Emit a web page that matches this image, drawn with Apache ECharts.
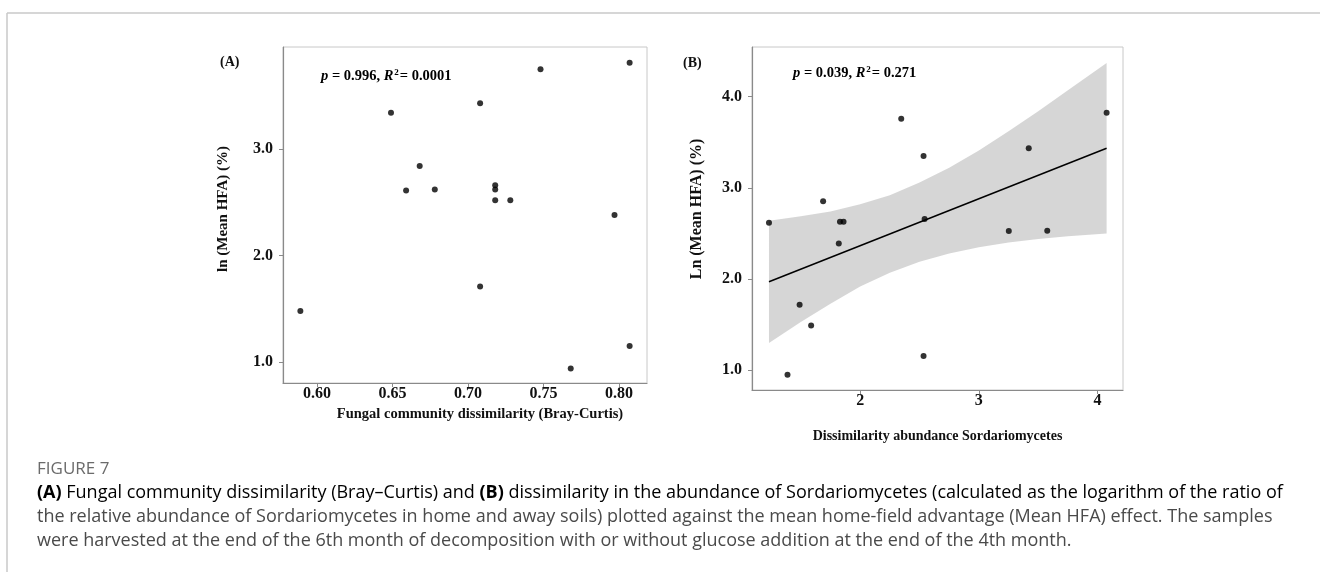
<!DOCTYPE html>
<html>
<head>
<meta charset="utf-8">
<script src="https://cdn.jsdelivr.net/npm/echarts@6/dist/echarts.min.js"></script>
<style>
html, body { margin: 0; padding: 0; background: #fff; }
#chart { width: 1320px; height: 572px; }
</style>
</head>
<body>
<div id="chart"></div>
<script>
// (A) fungal community dissimilarity vs ln(Mean HFA)
var dissimA = [0.589, 0.649, 0.659, 0.668, 0.678, 0.708, 0.708, 0.718, 0.718, 0.718, 0.728, 0.748, 0.768, 0.797, 0.807, 0.807];
var hfaA    = [1.48,  3.34,  2.61,  2.84,  2.62,  3.43,  1.71,  2.66,  2.62,  2.52,  2.52,  3.75,  0.94,  2.38,  3.81,  1.15];

// (B) dissimilarity abundance Sordariomycetes vs Ln(Mean HFA)
var sordB = [1.232, 1.388, 1.49, 1.587, 1.688, 1.82, 1.83, 1.86, 2.346, 2.534, 2.543, 2.534, 3.252, 3.42, 3.576, 4.076];
var hfaB  = [2.618, 0.95,  1.72, 1.49,  2.853, 2.39, 2.63, 2.63, 3.759, 3.35,  2.659, 1.157, 2.527, 3.434, 2.53, 3.825];

// fitted line + confidence band
var fitX = [1.232, 4.076];
var fitY = [1.971, 3.434];
var bandX    = [1.232, 1.5,  1.75, 2.0,  2.25, 2.5,  2.75, 3.0,  3.25, 3.5,  3.75, 4.076];
var bandLow  = [1.30,  1.53, 1.73, 1.92, 2.07, 2.19, 2.28, 2.35, 2.40, 2.44, 2.47, 2.50];
var bandHigh = [2.64,  2.69, 2.74, 2.82, 2.92, 3.06, 3.22, 3.41, 3.62, 3.84, 4.07, 4.37];

// tick labels
var ticksAx = [0.60, 0.65, 0.70, 0.75, 0.80];
var ticksAy = [1, 2, 3];
var ticksBx = [2, 3, 4];
var ticksBy = [1, 2, 3, 4];

var serif = 'Liberation Serif';
var axisCol = '#8a8a8a';

function makeAxis(opt) {
    var base = {
        type: 'value',
        scale: true,
        splitLine: { show: false },
        axisLine: { show: true, lineStyle: { color: axisCol, width: 1.2 } },
        axisTick: { show: true, length: 4, lineStyle: { color: axisCol } },
        axisLabel: {
            color: '#111',
            fontFamily: serif,
            fontWeight: 'bold',
            fontSize: 16,
            margin: 3
        },
        nameLocation: 'middle',
        nameTextStyle: {
            color: '#111',
            fontFamily: serif,
            fontWeight: 'bold',
            fontSize: 14
        }
    };
    var out = Object.assign({}, base, opt);
    out.axisTick = Object.assign({}, base.axisTick, { customValues: opt.ticks });
    out.axisLabel = Object.assign({}, base.axisLabel, { customValues: opt.ticks }, opt.labelExtra || {});
    out.nameTextStyle = Object.assign({}, base.nameTextStyle, opt.nameExtra || {});
    delete out.ticks;
    delete out.labelExtra;
    delete out.nameExtra;
    return out;
}

function zip(xs, ys) {
    return xs.map(function (x, i) { return [x, ys[i]]; });
}

var chart = echarts.init(document.getElementById('chart'));

var richStat = {
    b: { fontFamily: serif, fontWeight: 'bold', fontSize: 14.5, color: '#111' },
    i: { fontFamily: serif, fontWeight: 'bold', fontStyle: 'italic', fontSize: 14.5, color: '#111' },
    sup: { fontFamily: serif, fontWeight: 'bold', fontSize: 9, color: '#111', verticalAlign: 'top', padding: [0, 1, 0, 1] }
};

var option = {
    backgroundColor: '#fff',
    animation: false,
    grid: [
        { left: 283, top: 47, width: 364, height: 336, show: true, borderColor: '#c8c8c8', borderWidth: 1 },
        { left: 752, top: 47, width: 371, height: 343, show: true, borderColor: '#c8c8c8', borderWidth: 1 }
    ],
    xAxis: [
        makeAxis({
            gridIndex: 0, min: 0.5775, max: 0.8185, ticks: ticksAx,
            labelExtra: { formatter: function (v) { return v.toFixed(2); } },
            name: 'Fungal community dissimilarity (Bray-Curtis)', nameGap: 24,
            nameExtra: { fontSize: 14.5, padding: [0, 0, 0, 30] }
        }),
        makeAxis({
            gridIndex: 1, min: 1.089, max: 4.214, ticks: ticksBx,
            labelExtra: { formatter: function (v) { return String(v); } },
            name: 'Dissimilarity abundance Sordariomycetes', nameGap: 39
        })
    ],
    yAxis: [
        makeAxis({
            gridIndex: 0, min: 0.803, max: 3.958, ticks: ticksAy,
            labelExtra: { formatter: function (v) { return v.toFixed(1); }, margin: 10 }
        }),
        makeAxis({
            gridIndex: 1, min: 0.784, max: 4.545, ticks: ticksBy,
            labelExtra: { formatter: function (v) { return v.toFixed(1); }, margin: 10 }
        })
    ],
    series: [
        {
            type: 'scatter',
            xAxisIndex: 0, yAxisIndex: 0,
            symbolSize: 6,
            itemStyle: { color: '#000' },
            data: zip(dissimA, hfaA)
        },
        {
            type: 'scatter',
            xAxisIndex: 1, yAxisIndex: 1,
            symbolSize: 6,
            itemStyle: { color: '#000' },
            data: zip(sordB, hfaB)
        },
        {
            // confidence band drawn over the points, like ggplot
            type: 'custom',
            xAxisIndex: 1, yAxisIndex: 1,
            silent: true,
            data: [[bandX[0], bandLow[0]]],
            renderItem: function (params, api) {
                var pts = [];
                for (var i = 0; i < bandX.length; i++) pts.push(api.coord([bandX[i], bandHigh[i]]));
                for (var j = bandX.length - 1; j >= 0; j--) pts.push(api.coord([bandX[j], bandLow[j]]));
                return {
                    type: 'polygon',
                    shape: { points: pts },
                    style: { fill: 'rgba(153,153,153,0.4)', stroke: null }
                };
            }
        },
        {
            type: 'line',
            xAxisIndex: 1, yAxisIndex: 1,
            symbol: 'none',
            lineStyle: { color: '#000', width: 1.5 },
            data: zip(fitX, fitY)
        }
    ],
    graphic: [
        // page frame
        { type: 'line', shape: { x1: 7, y1: 13, x2: 1320, y2: 13 }, style: { stroke: '#c8c8c8', lineWidth: 1.5 } },
        { type: 'line', shape: { x1: 7, y1: 13, x2: 7, y2: 572 }, style: { stroke: '#c8c8c8', lineWidth: 1.5 } },
        // y axis titles
        { type: 'text', x: 223, y: 209, rotation: Math.PI / 2, style: {
            text: 'ln (Mean HFA) (%)', font: 'bold 15px "Liberation Serif"', fill: '#111', align: 'center', verticalAlign: 'middle' } },
        { type: 'text', x: 697, y: 209, rotation: Math.PI / 2, style: {
            text: 'Ln (Mean HFA) (%)', font: 'bold 16px "Liberation Serif"', fill: '#111', align: 'center', verticalAlign: 'middle' } },
        // panel tags
        { type: 'text', x: 220, y: 62, style: { text: '(A)', font: 'bold 14px "Liberation Serif"', fill: '#111', verticalAlign: 'middle' } },
        { type: 'text', x: 683, y: 63, style: { text: '(B)', font: 'bold 14px "Liberation Serif"', fill: '#111', verticalAlign: 'middle' } },
        // stats
        { type: 'text', x: 321, y: 76, style: {
            text: '{i|p}{b| = 0.996, }{i|R}{sup|2}{b|= 0.0001}', rich: richStat, verticalAlign: 'middle' } },
        { type: 'text', x: 793, y: 73, style: {
            text: '{i|p}{b| = 0.039, }{i|R}{sup|2}{b|= 0.271}', rich: richStat, verticalAlign: 'middle' } },
        // caption
        { type: 'text', x: 37, y: 469, style: { text: 'FIGURE 7', font: '17px "Open Sans"', fill: '#6b6b6b', verticalAlign: 'middle' } },
        { type: 'text', x: 37, y: 493, style: {
            text: '{b|(A)}{n| Fungal community dissimilarity (Bray–Curtis) and }{b|(B)}{n| dissimilarity in the abundance of Sordariomycetes (calculated as the logarithm of the ratio of}',
            rich: { b: { font: 'bold 18px "Open Sans"', color: '#4a4a4a' }, n: { font: '18px "Open Sans"', color: '#4a4a4a' } },
            verticalAlign: 'middle' } },
        { type: 'text', x: 37, y: 517, style: {
            text: 'the relative abundance of Sordariomycetes in home and away soils) plotted against the mean home-field advantage (Mean HFA) effect. The samples',
            font: '18px "Open Sans"', fill: '#4a4a4a', verticalAlign: 'middle' } },
        { type: 'text', x: 37, y: 541, style: {
            text: 'were harvested at the end of the 6th month of decomposition with or without glucose addition at the end of the 4th month.',
            font: '18px "Open Sans"', fill: '#4a4a4a', verticalAlign: 'middle' } }
    ]
};

chart.setOption(option);
</script>
</body>
</html>
